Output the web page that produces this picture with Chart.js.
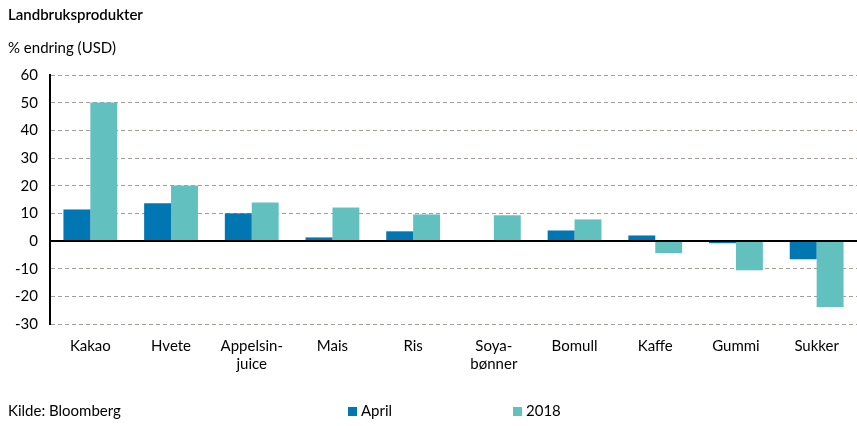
<!DOCTYPE html>
<html>
<head>
<meta charset="utf-8">
<script src="https://cdn.jsdelivr.net/npm/chart.js@4/dist/chart.umd.min.js"></script>
<style>
  html, body { margin:0; padding:0; background:#fff; }
  body { width:857px; height:426px; position:relative; overflow:hidden; font-family: Lato, "Open Sans", sans-serif; color:#000; }
  #wrap { position:absolute; left:0; top:0; width:857px; height:426px; }
  .txt { position:absolute; white-space:nowrap; font-size:15px; line-height:18px; }
  #title { left:8px; top:5px; font-weight:600; }
  #sub { left:8px; top:38px; }
  #src { left:8px; top:401px; }
  .lg { position:absolute; top:401px; font-size:15px; line-height:18px; white-space:nowrap; }
  .sw { display:inline-block; width:9px; height:9px; margin-right:4px; vertical-align:0px; }
</style>
</head>
<body>
<div id="wrap"><canvas id="c" width="857" height="426"></canvas></div>
<div class="txt" id="title">Landbruksprodukter</div>
<div class="txt" id="sub">% endring (USD)</div>
<div class="txt" id="src">Kilde: Bloomberg</div>
<div class="lg" style="left:348px"><span class="sw" style="background:#0077b3"></span>April</div>
<div class="lg" style="left:513px"><span class="sw" style="background:#62c1bf"></span>2018</div>
<script>
const categories = ['Kakao', 'Hvete', ['Appelsin-', 'juice'], 'Mais', 'Ris', ['Soya-', 'bønner'], 'Bomull', 'Kaffe', 'Gummi', 'Sukker'];
const aprilValues = [11.4, 13.6, 10.0, 1.3, 3.5, 0, 3.8, 2.0, -0.8, -6.6];
const y2018Values = [50.1, 20.1, 13.9, 12.1, 9.6, 9.3, 7.8, -4.4, -10.6, -23.9];
const seriesNames = ['April', '2018'];
const yTicks = [60, 50, 40, 30, 20, 10, 0, -10, -20, -30];

const isZero = ctx => ctx.tick && ctx.tick.value === 0;

new Chart(document.getElementById('c'), {
  type: 'bar',
  data: {
    labels: categories,
    datasets: [
      { label: seriesNames[0], data: aprilValues, backgroundColor: '#0077b3', borderWidth: 0 },
      { label: seriesNames[1], data: y2018Values, backgroundColor: '#62c1bf', borderWidth: 0 }
    ]
  },
  options: {
    responsive: false,
    animation: false,
    devicePixelRatio: 1,
    layout: { padding: { top: 75, right: 0, left: 0, bottom: 0 } },
    plugins: { legend: { display: false }, title: { display: false }, tooltip: { enabled: false } },
    datasets: { bar: { categoryPercentage: 0.667, barPercentage: 1.0 } },
    scales: {
      x: {
        grid: { display: false },
        border: { display: false },
        ticks: {
          color: '#000', font: { family: 'Lato', size: 15 }, maxRotation: 0, autoSkip: false, padding: 5
        },
        afterFit: s => { s.height = 102; }
      },
      y: {
        min: -30, max: 60,
        afterBuildTicks: s => { s.ticks = yTicks.map(v => ({ value: v })); },
        ticks: { color: '#000', font: { family: 'Lato', size: 15 }, padding: 12 },
        grid: {
          drawTicks: false,
          color: ctx => isZero(ctx) ? '#000' : '#a59d97',
          lineWidth: ctx => isZero(ctx) ? 2 : 1
        },
        border: {
          display: true, color: '#000', width: 2,
          dash: ctx => isZero(ctx) ? [] : [4, 3]
        },
        afterFit: s => { s.width = 50; }
      }
    }
  }
});
</script>
</body>
</html>
